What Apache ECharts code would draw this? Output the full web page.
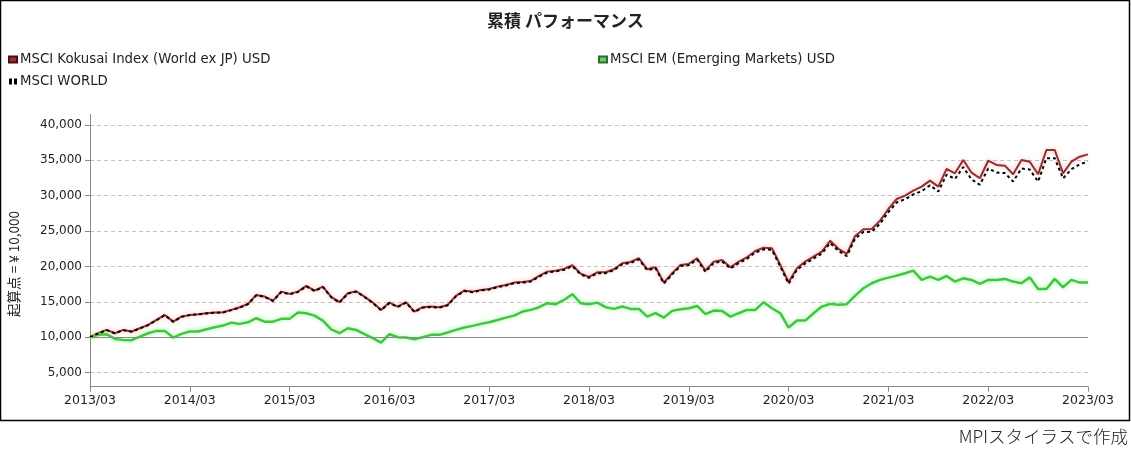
<!DOCTYPE html>
<html><head><meta charset="utf-8">
<script src="https://cdn.jsdelivr.net/npm/echarts@6/dist/echarts.min.js"></script>
<style>html,body{margin:0;padding:0;background:#fff}#c{width:1131px;height:453px}</style>
</head><body><div id="c"></div>
<script>
const titleText = '累積 パフォーマンス';
const seriesNames = ['MSCI Kokusai Index (World ex JP) USD', 'MSCI EM (Emerging Markets) USD', 'MSCI WORLD'];
const yTickValues = [5000, 10000, 15000, 20000, 25000, 30000, 35000, 40000];
const yAxisName = '起算点 = ¥ 10,000';
const creditText = 'MPIスタイラスで作成';

// months 2013/03 .. 2023/03
const months = [];
for (let y = 2013; y <= 2023; y++) {
  for (let m = 1; m <= 12; m++) {
    if ((y === 2013 && m < 3) || (y === 2023 && m > 3)) continue;
    months.push(y + '/' + (m < 10 ? '0' + m : m));
  }
}

const kokusai = [
10000,10560,11030,10560,11030,10800,11270,11740,12440,13150,12200,12910,
13150,13250,13390,13480,13530,13860,14240,14710,15980,15740,15170,16440,
16120,16440,17250,16590,17150,15700,14950,16220,16500,15740,14890,13860,
14890,14330,14950,13620,14240,14330,14240,14560,15840,16590,16440,16680,
16820,17150,17390,17720,17810,17960,18660,19270,19410,19650,20170,18990,
18520,19180,19180,19610,20460,20640,21160,19610,19890,17720,19040,20220,
20360,21160,19410,20680,20920,19890,20680,21300,22190,22660,22570,20220,
17770,19750,20680,21390,22100,23630,22500,21770,24310,25260,25300,26480,
28130,29540,30010,30720,31280,32130,31280,33790,33170,35050,33260,32470,
34950,34350,34250,33030,35050,34810,33030,36470,36470,33170,34810,35520,
35850
];
const em = [
10000,10330,10420,9760,9620,9580,10090,10560,10890,10890,9950,10470,
10800,10800,11130,11410,11640,12060,11880,12110,12680,12200,12200,12590,
12590,13480,13390,13050,12350,11100,10560,11270,11030,10420,9860,9240,
10420,10000,9950,9720,10000,10330,10330,10660,11030,11360,11600,11880,
12120,12440,12770,13050,13620,13860,14240,14800,14660,15270,16080,14800,
14660,14890,14240,14000,14330,14000,14000,12910,13390,12770,13720,13950,
14090,14420,13250,13770,13720,12910,13390,13860,13860,14950,14090,13390,
11360,12350,12350,13390,14330,14710,14600,14660,15880,16920,17630,18100,
18420,18700,19040,19410,18100,18560,18100,18660,17860,18320,18100,17530,
18100,18100,18240,17860,17630,18460,16820,16820,18240,17060,18100,17720,
17720
];
const world = [
10000,10540,11000,10540,11000,10780,11240,11710,12410,13120,12170,12880,
13120,13220,13360,13450,13500,13830,14200,14670,15930,15690,15120,16390,
16070,16390,17190,16530,17090,15650,14900,16160,16440,15690,14840,13810,
14830,14270,14890,13570,14180,14270,14180,14500,15770,16520,16370,16610,
16740,17070,17300,17630,17720,17870,18560,19170,19300,19540,20050,18880,
18400,19050,19050,19480,20320,20500,21010,19470,19750,17580,18880,20060,
20190,20980,19240,20500,20730,19700,20480,21090,21970,22430,22340,20000,
17560,19520,20430,21120,21820,23320,22200,21470,23960,24880,24900,26060,
27700,29050,29510,30180,30640,31470,30600,32990,32380,34040,32300,31550,
33850,33300,33200,32020,33850,33700,32000,35300,35300,32450,33750,34450,
34830
];

const FONT = 'DejaVu Sans';
const chart = echarts.init(document.getElementById('c'), null, {renderer: 'canvas'});
chart.setOption({
  animation: false,
  backgroundColor: '#fff',
  title: {
    text: titleText, left: 'center', top: 7,
    textStyle: {fontFamily: 'Noto Sans CJK JP', fontSize: 17, fontWeight: 'bold', color: '#222'}
  },
  legend: [
    {
      data: [
        {name: seriesNames[0], icon: 'rect'},
        {name: seriesNames[2], icon: 'path://M0,0h3v6h-3z M5,0h3v6h-3z'}
      ],
      orient: 'vertical', left: 8, top: 53, padding: 0,
      itemWidth: 8, itemHeight: 6, itemGap: 9,
      textStyle: {fontFamily: FONT, fontSize: 13.3, color: '#222', padding: [0, 0, 0, -2]}
    },
    {
      data: [{name: seriesNames[1], icon: 'rect'}],
      orient: 'vertical', left: 598, top: 53, padding: 0,
      itemWidth: 8, itemHeight: 6,
      textStyle: {fontFamily: FONT, fontSize: 13.3, color: '#222', padding: [0, 0, 0, -2]}
    }
  ],
  grid: {left: 90, right: 43, top: 114.4, bottom: 66.3, containLabel: false},
  xAxis: {
    type: 'category', data: months, boundaryGap: false,
    axisLine: {lineStyle: {color: '#888', width: 1}},
    axisTick: {interval: 11, length: 5, lineStyle: {color: '#888'}},
    axisLabel: {interval: 11, fontFamily: FONT, fontSize: 12.5, color: '#222', margin: 8},
    splitLine: {show: false}
  },
  yAxis: {
    type: 'value', min: 3000, max: 41500,
    axisLine: {show: true, lineStyle: {color: '#888', width: 1}},
    axisTick: {show: true, length: 5, customValues: yTickValues, lineStyle: {color: '#888'}},
    axisLabel: {
      customValues: yTickValues, fontFamily: FONT, fontSize: 12, color: '#222', margin: 8,
      formatter: v => v.toLocaleString('en-US')
    },
    splitLine: {show: true, lineStyle: {color: '#c4c4c4', type: [4, 3], width: 1}}
  },
  series: [
    {
      name: seriesNames[0], type: 'line', data: kokusai, symbol: 'none', z: 3,
      itemStyle: {color: '#993333', borderColor: '#4a1010', borderWidth: 1},
      lineStyle: {color: '#8f2f2f', width: 2, shadowColor: 'rgba(255,120,120,0.55)', shadowBlur: 4},
      markLine: {
        silent: true, symbol: 'none', label: {show: false},
        lineStyle: {color: '#888', type: 'solid', width: 1},
        data: [{yAxis: 10000}]
      }
    },
    {
      name: seriesNames[1], type: 'line', data: em, symbol: 'none', z: 3,
      itemStyle: {color: '#66cc66', borderColor: '#2f6a2f', borderWidth: 1},
      lineStyle: {color: '#44c444', width: 2.5, shadowColor: 'rgba(120,255,120,0.7)', shadowBlur: 4}
    },
    {
      name: seriesNames[2], type: 'line', data: world, symbol: 'none', z: 4,
      itemStyle: {color: '#000'},
      lineStyle: {color: '#000', width: 2, type: [3, 3]}
    }
  ],
  graphic: [
    {type: 'rect', shape: {x: 0.5, y: 0.5, width: 1129, height: 420},
     style: {fill: 'none', stroke: '#000', lineWidth: 1.5}, silent: true},
    {type: 'text', x: 14, y: 264, rotation: Math.PI / 2,
     style: {text: yAxisName, fontFamily: 'Noto Sans CJK JP', fontSize: 13.5, fill: '#222',
             align: 'center', verticalAlign: 'middle'}},
    {type: 'text', right: 3, top: 428,
     style: {text: creditText, fontFamily: 'Noto Sans CJK JP', fontSize: 17.5, fontWeight: 300, fill: '#222'}}
  ]
});
</script></body></html>
